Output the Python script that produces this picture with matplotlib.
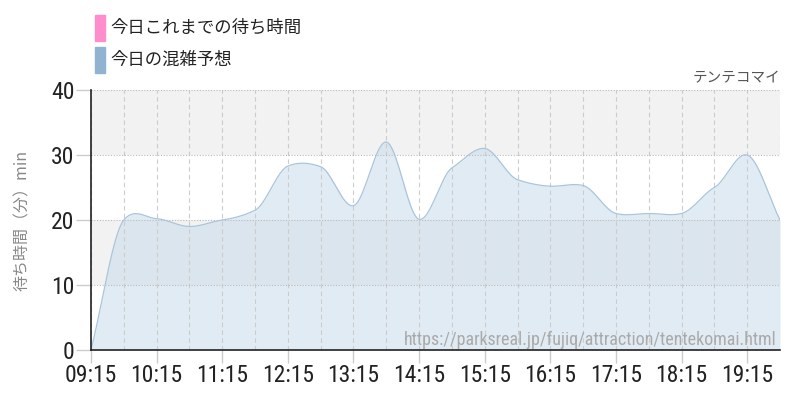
import matplotlib

matplotlib.use("Agg")
import matplotlib.pyplot as plt
import numpy as np
from matplotlib.patches import Rectangle

plt.rcParams["font.family"] = ["Noto Sans CJK JP", "DejaVu Sans"]

TITLE = "テンテコマイ"
URL = "https://parksreal.jp/fujiq/attraction/tentekomai.html"
LEGEND = ["今日これまでの待ち時間", "今日の混雑予想"]
YLABEL = "待ち時間（分）min"

# forecast every 30 min from 09:15 to 19:45
times = [9.25 + 0.5 * i for i in range(22)]
forecast = [0, 20, 20.2, 19, 20, 21.5, 28.3, 28.2, 22.2, 32, 20.1,
            28, 31, 26.2, 25.2, 25.3, 21, 21, 21, 25, 30, 20]
today = []  # no measured waits yet
xticks = [9.25 + i for i in range(11)]
xticklabels = ["09:15", "10:15", "11:15", "12:15", "13:15", "14:15",
               "15:15", "16:15", "17:15", "18:15", "19:15"]
yticks = [0, 10, 20, 30, 40]

C_TODAY = "#ff8ccc"
C_FC = "#8fb3d0"
C_LINE = "#a9c4dc"
C_FILL = "#c5d9ea"
TICK_FONT = ["Roboto Condensed", "Barlow Condensed", "DejaVu Sans"]


def smooth(x, y, n=20, k_t=0.6):
    # cardinal spline through the points, for drawing only
    x = np.asarray(x, float)
    y = np.asarray(y, float)
    m = np.zeros_like(y)
    m[1:-1] = k_t * (y[2:] - y[:-2]) / (x[2:] - x[:-2])
    m[0] = (y[1] - y[0]) / (x[1] - x[0])
    m[-1] = (y[-1] - y[-2]) / (x[-1] - x[-2])
    xs, ys = [], []
    for k in range(len(x) - 1):
        h = x[k + 1] - x[k]
        t = np.linspace(0, 1, n, endpoint=False)
        h00 = 2 * t**3 - 3 * t**2 + 1
        h10 = t**3 - 2 * t**2 + t
        h01 = -2 * t**3 + 3 * t**2
        h11 = t**3 - t**2
        xs.append(x[k] + t * h)
        ys.append(h00 * y[k] + h10 * h * m[k] + h01 * y[k + 1] + h11 * h * m[k + 1])
    xs.append([x[-1]])
    ys.append([y[-1]])
    return np.concatenate(xs), np.concatenate(ys)


fig = plt.figure(figsize=(8, 4), dpi=100)
ax = fig.add_axes([91 / 800, 50 / 400, 689 / 800, 260 / 400])

# alternating background bands
for lo, hi in [(10, 20), (30, 40)]:
    ax.axhspan(lo, hi, color="#f2f2f2", zorder=0, lw=0)

sx, sy = smooth(times, forecast)
ax.fill_between(sx, 0, sy, color=C_FILL, alpha=0.5, lw=0, zorder=2)
ax.plot(sx, sy, color=C_LINE, lw=0.9, zorder=3)
if today:
    ax.plot(times[:len(today)], today, color=C_TODAY, lw=2, zorder=4)

ax.set_xlim(times[0], times[-1])
ax.set_ylim(0, 40)
ax.set_xticks(xticks)
ax.set_xticklabels(xticklabels, fontsize=17, family=TICK_FONT)
ax.set_xticks([t + 0.5 for t in xticks], minor=True)
ax.set_yticks(yticks)
ax.set_yticklabels([str(v) for v in yticks], fontsize=17, family=TICK_FONT)
ax.tick_params(axis="both", which="both", color="#cccccc", width=1,
               labelcolor="#222222", pad=1)
ax.tick_params(axis="y", length=11)
ax.tick_params(axis="x", length=9)
ax.tick_params(axis="x", which="minor", length=0)
ax.grid(axis="x", which="both", color="#cccccc", ls=(0, (4, 3)), lw=0.8, zorder=1)
ax.grid(axis="y", color="#bbbbbb", ls=(0, (1, 1.5)), lw=0.8, zorder=1)
ax.set_axisbelow(False)
for s in ("top", "right"):
    ax.spines[s].set_visible(False)
for s in ("left", "bottom"):
    ax.spines[s].set_color("#222222")
    ax.spines[s].set_linewidth(1.2)
    ax.spines[s].set_zorder(5)

ax.set_ylabel(YLABEL, fontsize=11.5, color="#888888", labelpad=14)

ax.text(1.0, 1.02, TITLE, transform=ax.transAxes, ha="right", va="bottom",
        fontsize=10.5, color="#555555")
ax.text(0.995, 0.04, URL, transform=ax.transAxes, ha="right", va="center",
        fontsize=13, color="#aaaaaa", family=["Roboto Condensed", "DejaVu Sans"], zorder=6)

# legend drawn in figure pixels
for i, (lab, col) in enumerate(zip(LEGEND, [C_TODAY, C_FC])):
    ytop = 15 + i * 32
    fig.patches.append(Rectangle((95 / 800, 1 - (ytop + 26) / 400), 10 / 800, 26 / 400,
                                 transform=fig.transFigure, color=col))
    fig.text(110 / 800, 1 - (ytop + 13) / 400, lab, fontsize=12.5, va="center",
             ha="left", color="#222222")

fig.savefig("out.png", dpi=100, facecolor="white")
